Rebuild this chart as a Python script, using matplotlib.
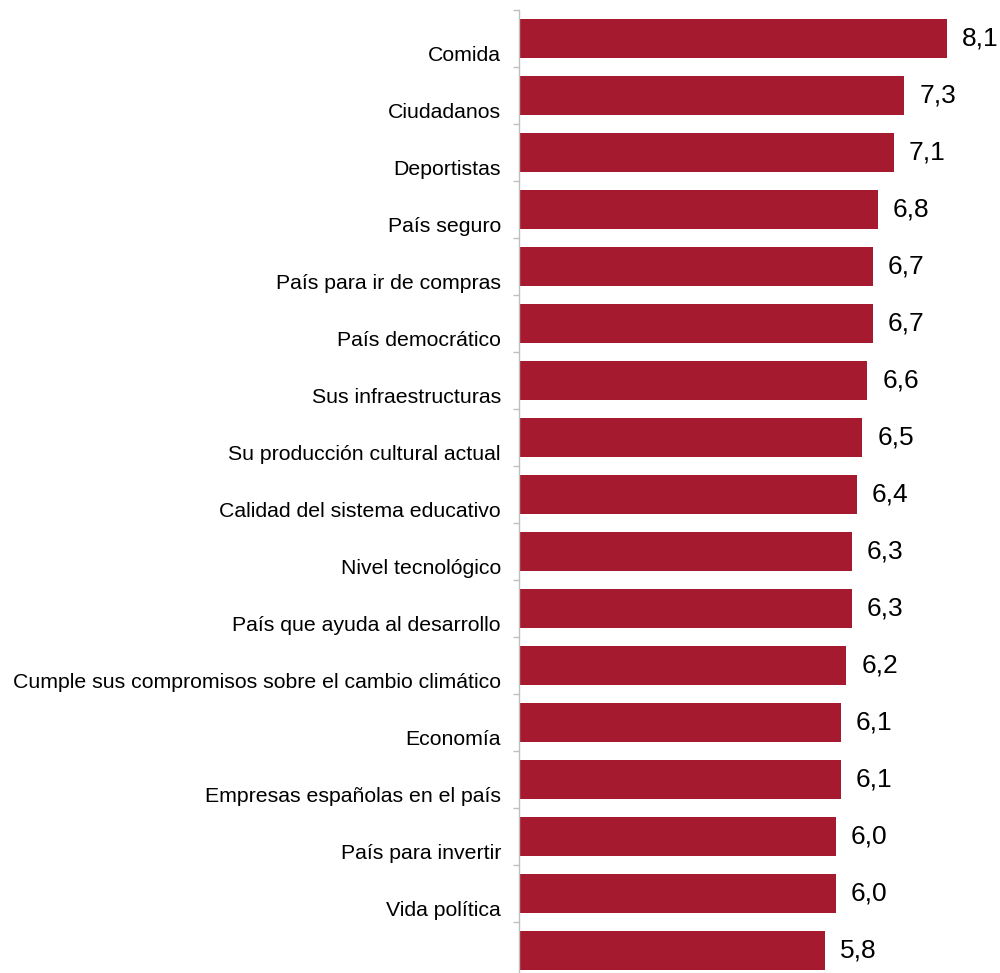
import matplotlib
matplotlib.use("Agg")
import matplotlib.pyplot as plt
from matplotlib.transforms import ScaledTranslation
import numpy as np

categories = ["Comida", "Ciudadanos", "Deportistas", "País seguro",
              "País para ir de compras", "País democrático", "Sus infraestructuras",
              "Su producción cultural actual", "Calidad del sistema educativo",
              "Nivel tecnológico", "País que ayuda al desarrollo",
              "Cumple sus compromisos sobre el cambio climático", "Economía",
              "Empresas españolas en el país", "País para invertir", "Vida política", ""]
values = [8.1, 7.3, 7.1, 6.8, 6.7, 6.7, 6.6, 6.5, 6.4, 6.3, 6.3, 6.2, 6.1, 6.1, 6.0, 6.0, 5.8]
value_labels = [f"{v:.1f}".replace(".", ",") for v in values]

plt.rcParams['font.family'] = ['Liberation Sans', 'DejaVu Sans']

W, H = 1000, 973
fig = plt.figure(figsize=(W/100, H/100), dpi=100)
left_px, top_px, slot_px = 519, 10, 57
n = len(categories)
bottom_px = top_px + n*slot_px
ax = fig.add_axes([left_px/W, (H-bottom_px)/H, 1 - left_px/W, (n*slot_px)/H])

y = np.arange(n)
color = "#A51A2F"
ax.barh(y, values, height=0.68, color=color, zorder=2)
ax.set_ylim(n-0.5, -0.5)
px_per_unit = 52.8
ax.set_xlim(0, (W-left_px)/px_per_unit)

for yi, v, lab in zip(y, values, value_labels):
    ax.annotate(lab, xy=(v, yi), xytext=(15*0.72, 0), textcoords="offset points",
                va="center", ha="left", fontsize=19, color="#000000")

for s in ["top", "right", "bottom"]:
    ax.spines[s].set_visible(False)
ax.spines["left"].set_color("#BFBFBF")
ax.spines["left"].set_linewidth(1.0)
ax.set_xticks([])

ax.set_yticks(y)
ax.set_yticklabels(categories, fontsize=15.3)
ax.tick_params(axis="y", which="major", length=0, pad=18*0.72)
ax.set_yticks(np.arange(n+1)-0.5, minor=True)
ax.tick_params(axis="y", which="minor", length=4, color="#BFBFBF", width=1)

offset = ScaledTranslation(0, -15/100, fig.dpi_scale_trans)
for lbl in ax.get_yticklabels():
    lbl.set_transform(lbl.get_transform() + offset)

fig.savefig("out.png", dpi=100)
